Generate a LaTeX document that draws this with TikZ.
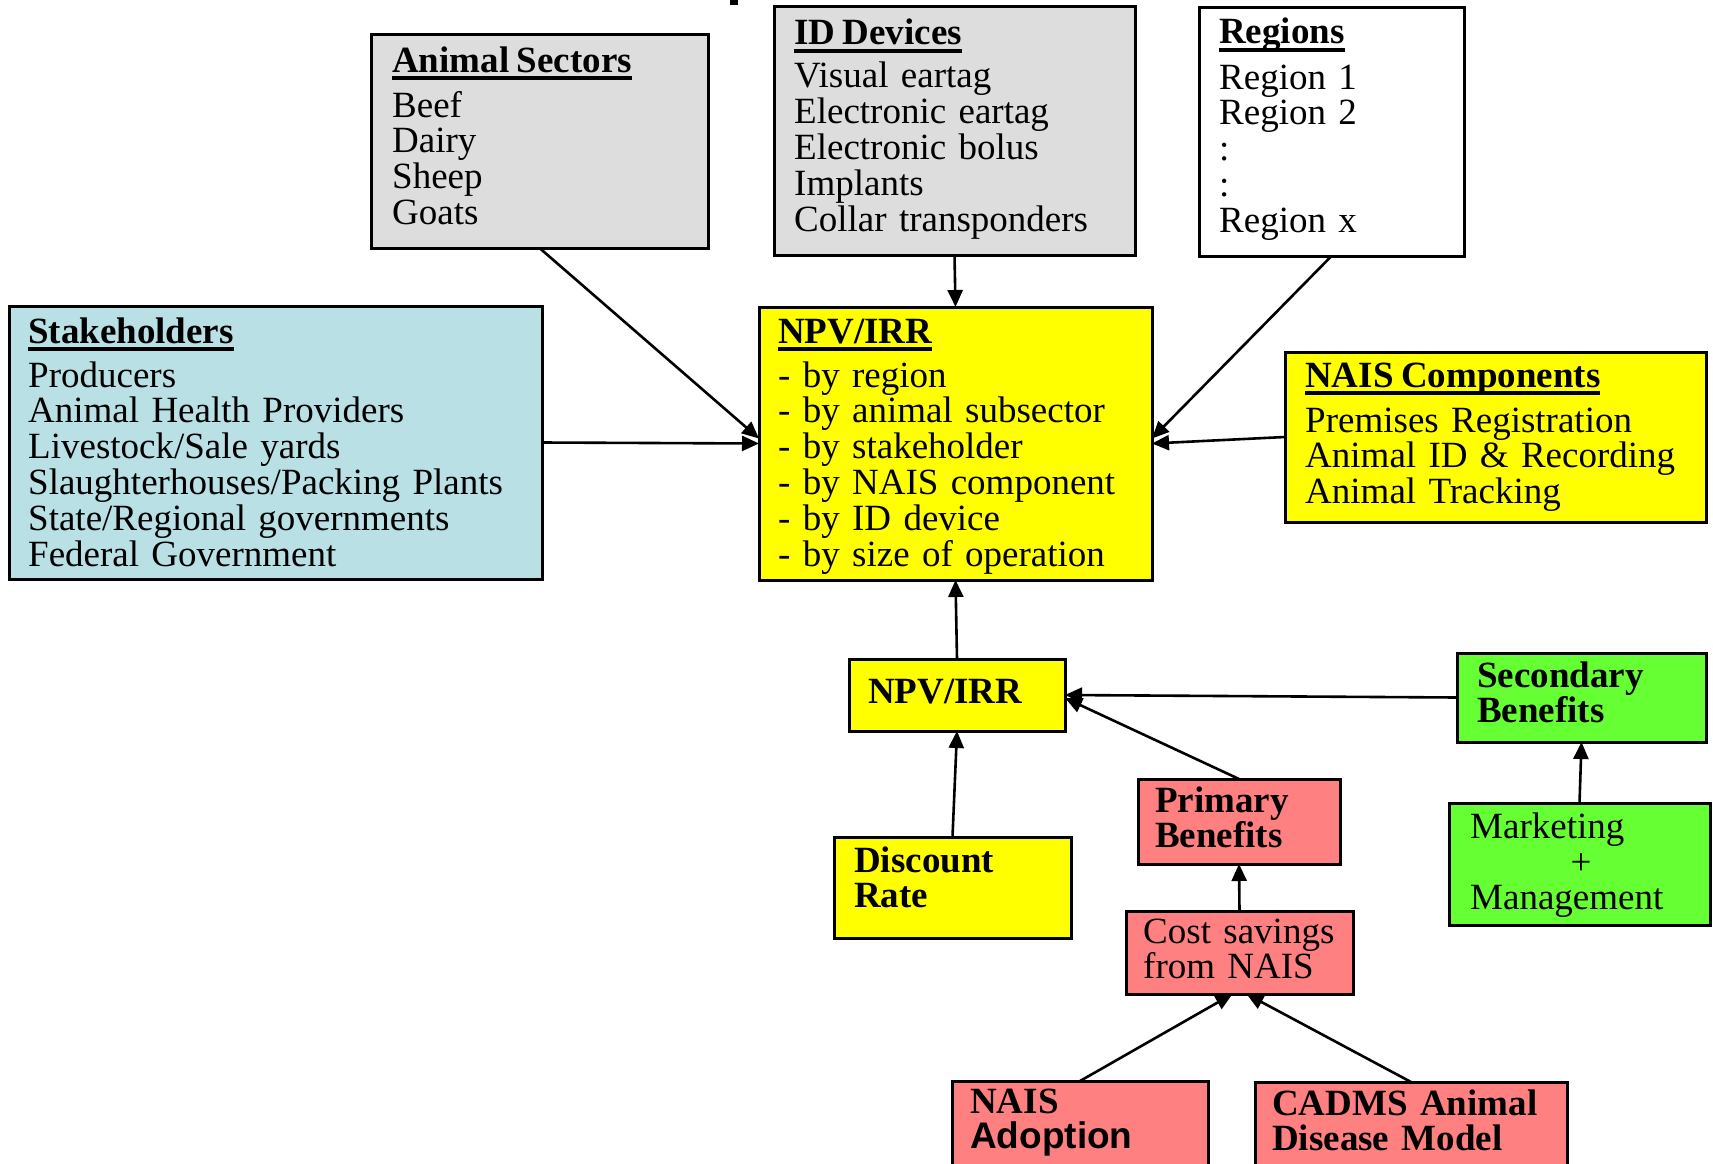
\documentclass[tikz,border=0pt]{standalone}
\usepackage{fontspec}
\setmainfont[WordSpace=0.8]{Liberation Serif}
\newfontfamily\helv{Liberation Sans}
\usetikzlibrary{arrows.meta}

\definecolor{sectgrey}{RGB}{221,221,221}
\definecolor{stakeblue}{RGB}{185,224,228}
\definecolor{npvyellow}{RGB}{255,255,0}
\definecolor{benefitred}{RGB}{255,128,128}
\definecolor{secgreen}{RGB}{102,255,51}

\newcommand\bodysize{\fontsize{37pt}{35.8pt}\selectfont}
\newsavebox\headbox
% bold heading with a heavy underline
\newcommand\uhead[1]{\sbox\headbox{\bfseries #1}\rlap{\rule[-8pt]{\wd\headbox}{3.6pt}}\usebox\headbox}

\tikzset{
  box/.style={draw=black, line width=3pt, rectangle, inner sep=0pt, outer sep=0pt, anchor=north west},
  head/.style={anchor=base west, inner sep=0pt, font=\bodysize},
  body/.style={anchor=base west, inner sep=0pt, text width=650pt, align=left, font=\bodysize},
  bbody/.style={body, font=\bodysize\bfseries},
  link/.style={line width=2.6pt, -{Triangle[length=17pt,width=15pt]}},
}

\begin{document}
\begin{tikzpicture}[x=1pt, y=-1pt]
\useasboundingbox (0,0) rectangle (1713,1164);
\clip (0,0) rectangle (1713,1164);

% cropped title stroke at the top edge
\fill (730,0) rectangle (738,5);

% boxes
\node[box, fill=sectgrey,   minimum width=337pt, minimum height=213pt] (sect)  at (371,35)   {};
\node[box, fill=sectgrey,   minimum width=361pt, minimum height=248pt] (id)    at (774,7)    {};
\node[box, fill=white,      minimum width=265pt, minimum height=248pt] (reg)   at (1199,8)   {};
\node[box, fill=stakeblue,  minimum width=533pt, minimum height=273pt] (stake) at (9,306)    {};
\node[box, fill=npvyellow,  minimum width=393pt, minimum height=273pt] (npv)   at (759,307)  {};
\node[box, fill=npvyellow,  minimum width=421pt, minimum height=170pt] (nais)  at (1285,352) {};
\node[box, fill=npvyellow,  minimum width=216pt, minimum height=72pt]  (npv2)  at (849,659)  {};
\node[box, fill=secgreen,   minimum width=249pt, minimum height=89pt]  (sec)   at (1457,653) {};
\node[box, fill=npvyellow,  minimum width=237pt, minimum height=101pt] (disc)  at (834,837)  {};
\node[box, fill=benefitred, minimum width=202pt, minimum height=85pt]  (prim)  at (1138,779) {};
\node[box, fill=secgreen,   minimum width=261pt, minimum height=122pt] (mkt)   at (1449,803) {};
\node[box, fill=benefitred, minimum width=227pt, minimum height=83pt]  (cost)  at (1126,911) {};
\node[box, fill=benefitred, minimum width=256pt, minimum height=120pt] (adopt) at (952,1081) {};
\node[box, fill=benefitred, minimum width=312pt, minimum height=120pt] (cadms) at (1255,1082) {};

% box texts
\node[head] (sectH) at (392,72) {\uhead{Animal Sectors}};
\node[body] (sectB) at (392,117) {Beef\\Dairy\\Sheep\\Goats};

\node[head] (idH) at (794,45) {\uhead{ID Devices}};
\node[body] (idB) at (794,88) {Visual eartag\\Electronic eartag\\Electronic bolus\\Implants\\Collar transponders};

\node[head] (regH) at (1219,44) {\uhead{Regions}};
\node[body] (regB) at (1219,89) {Region 1\\Region 2\\:\\:\\Region x};

\node[head] (stakeH) at (28,343) {\uhead{Stakeholders}};
\node[body] (stakeB) at (28,387) {Producers\\Animal Health Providers\\Livestock/Sale yards\\Slaughterhouses/Packing Plants\\State/Regional governments\\Federal Government};

\node[head] (npvH) at (778,343) {\uhead{NPV/IRR}};
\node[body] (npvB) at (778,387) {- by region\\- by animal subsector\\- by stakeholder\\- by NAIS component\\- by ID device\\- by size of operation};

\node[head] (naisH) at (1305,387) {\uhead{NAIS Components}};
\node[body] (naisB) at (1305,432) {Premises Registration\\Animal ID \& Recording\\Animal Tracking};

\node[bbody] (npv2T) at (868,703) {NPV/IRR};
\node[bbody] (secT)  at (1477,687) {Secondary\\Benefits};
\node[bbody] (discT) at (854,872) {Discount\\Rate};
\node[bbody] (primT) at (1155,812) {Primary\\Benefits};
\node[body]  (mktT)  at (1470,838) {Marketing\\\mbox{}\\Management};
\node[head, anchor=base] (mktP) at (1581,874) {+};
\node[body]  (costT) at (1143,943) {Cost savings\\from NAIS};
\node[bbody] (adoptT) at (970,1113) {NAIS\\{\helv\bfseries Adoption}};
\node[bbody] (cadmsT) at (1272,1115) {CADMS Animal\\Disease Model};

% connectors
\draw[link] (sect.south) -- ([yshift=5pt]npv.west);
\draw[link] (stake.east) -- (npv.west);
\draw[link] (id.south) -- (npv.north);
\draw[link] (reg.south) -- ([yshift=5pt]npv.east);
\draw[link] (nais.west) -- (npv.east);
\draw[link] (npv2.north) -- (npv.south);
\draw[link] (disc.north) -- (npv2.south);
\draw[link] (prim.north) -- ([yshift=-3pt]npv2.east);
\draw[link] (sec.west) -- (npv2.east);
\draw[link] (mkt.north) -- (sec.south);
\draw[link] (cost.north) -- (prim.south);
\draw[link] (adopt.north) -- ([xshift=-7pt]cost.south);
\draw[link] (cadms.north) -- ([xshift=7pt]cost.south);
\end{tikzpicture}
\end{document}
